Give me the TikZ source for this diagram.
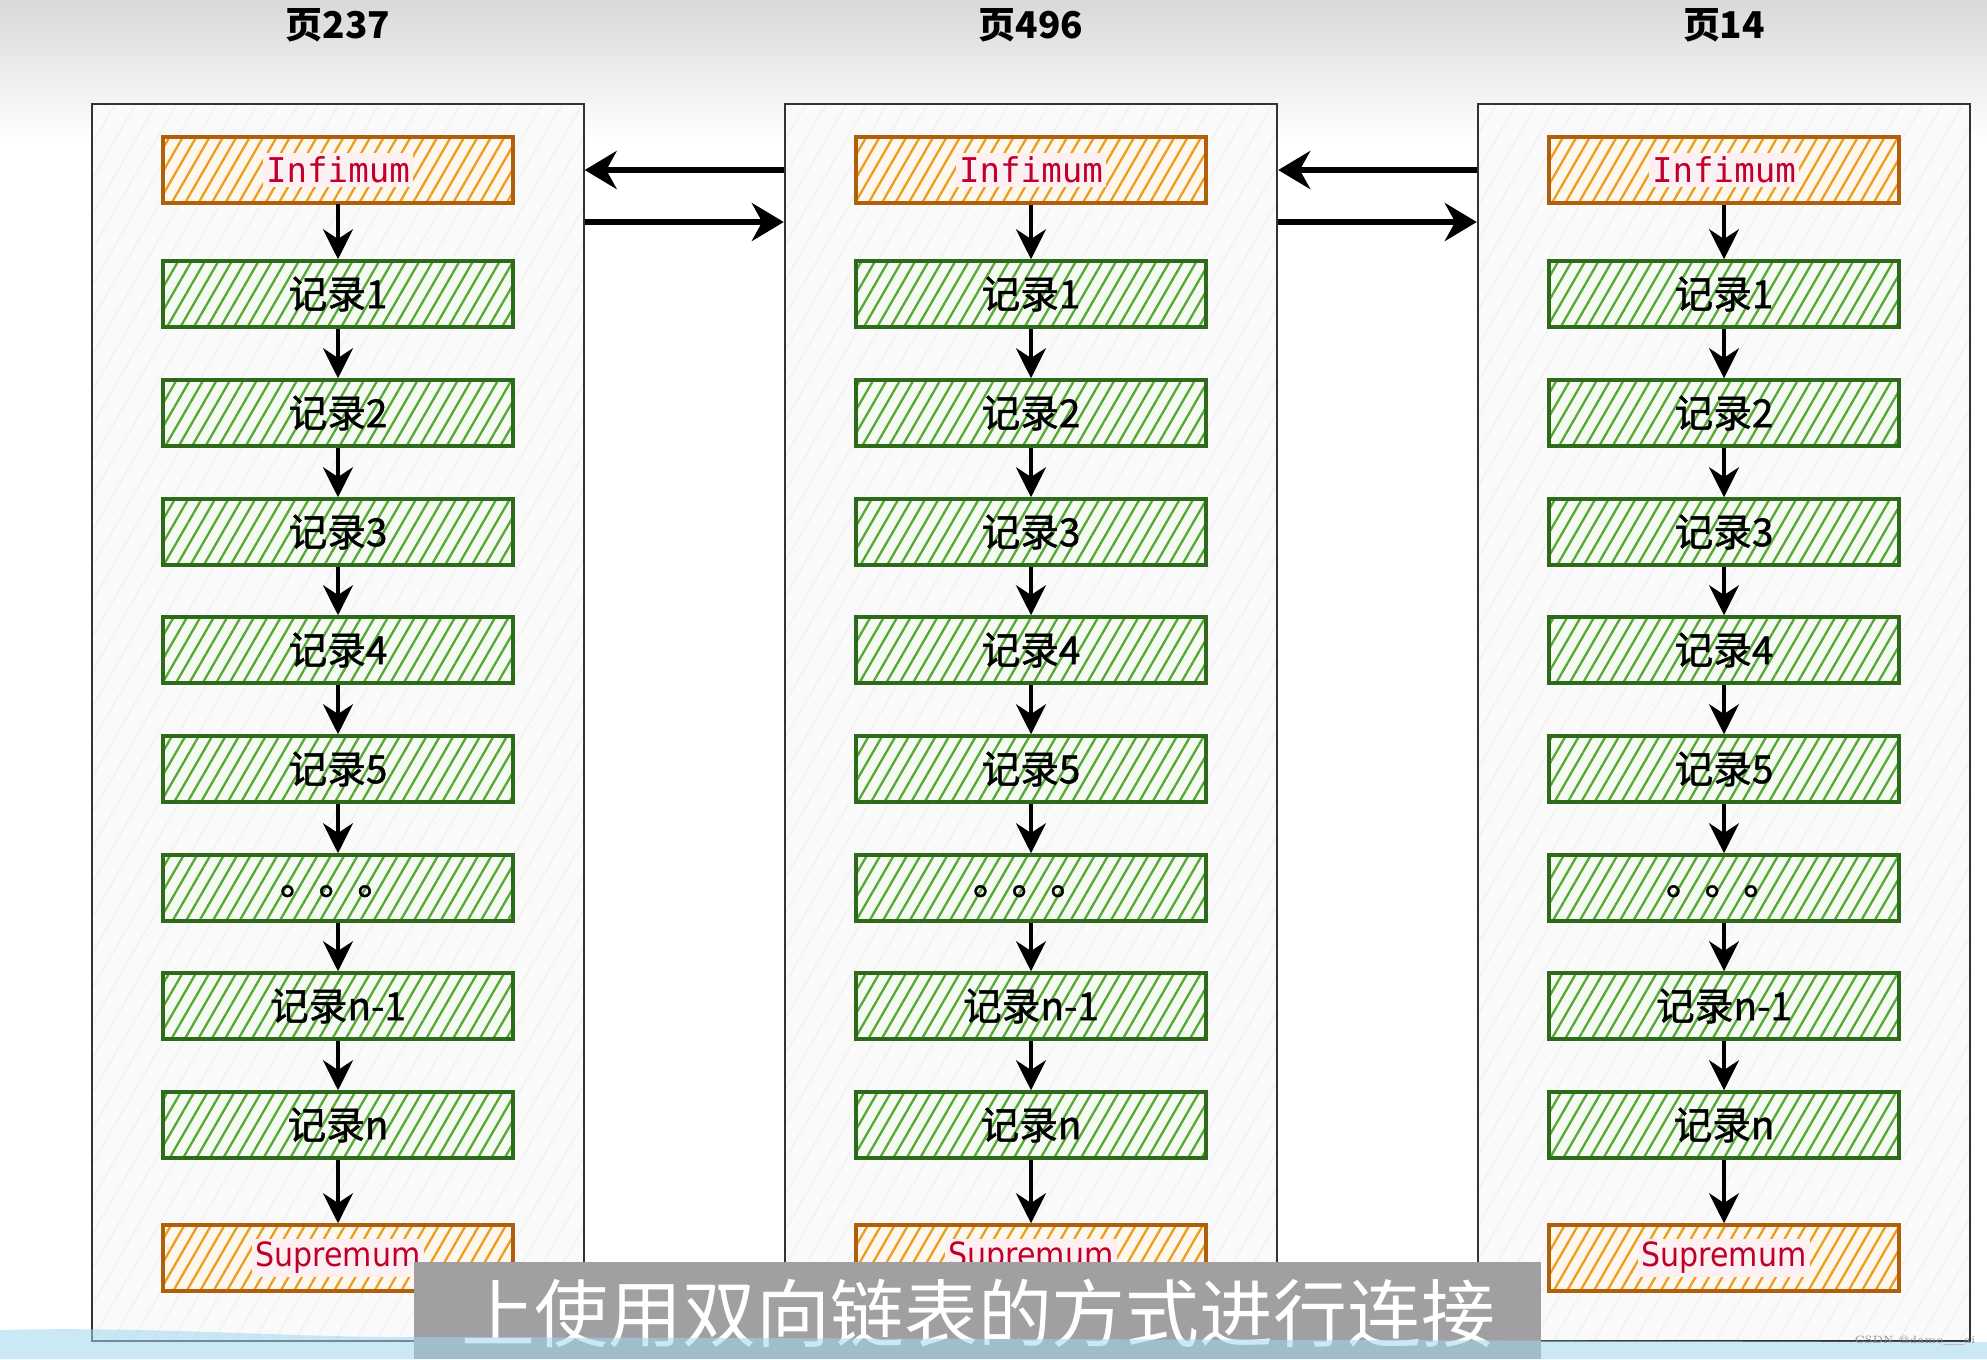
\documentclass[tikz,border=0pt]{standalone}
\usepackage{fontspec}
\usetikzlibrary{arrows.meta,patterns.meta}
\newfontfamily\cjk{Noto Sans CJK SC}
\newfontfamily\cjkrec[FakeBold=1.2]{Noto Sans CJK SC}
\newfontfamily\mono{DejaVu Sans Mono}
\newfontfamily\condsans{DejaVu Sans Condensed}

\definecolor{orgline}{HTML}{EC9D1E}
\definecolor{orgedge}{HTML}{B0600A}
\definecolor{grnline}{HTML}{55A835}
\definecolor{grnedge}{HTML}{2D6A1A}
\definecolor{txtred}{HTML}{C0002A}
\definecolor{hlpink}{HTML}{FDF0F2}
\definecolor{subgray}{HTML}{A19FA1}
\definecolor{blueband}{HTML}{9FD6EE}

\tikzset{
  pagebox/.style={draw=black!80, line width=0.6pt, inner sep=0pt,
    minimum width=4.92cm, minimum height=12.37cm,
    preaction={fill=black!2},
    pattern={Lines[angle=60,distance=5pt,line width=0.3pt]}, pattern color=black!6},
  cell/.style={line width=1pt, inner sep=0pt,
    minimum width=3.5cm, minimum height=0.66cm,
    pattern={Lines[angle=60,distance=3.3pt,line width=0.65pt]}},
  rec/.style={cell, draw=grnedge, preaction={fill=grnline!6},
    pattern color=grnline, font=\cjkrec\fontsize{11}{11}\selectfont},
  bound/.style={cell, draw=orgedge, preaction={fill=orgline!8},
    pattern color=orgline, text=txtred},
  link/.style={-{Stealth[length=3mm,width=3mm]}, line width=1pt},
  jump/.style={-{Stealth[length=3.2mm,width=3.8mm]}, line width=1.7pt},
  pgtitle/.style={font=\cjk\bfseries\fontsize{10.5}{10.5}\selectfont},
  subcap/.style={text=white, font=\cjk\fontsize{21}{21}\selectfont}
}
\setlength{\fboxsep}{1pt}

\begin{document}
\begin{tikzpicture}[x=0.01cm,y=-0.01cm]
  \useasboundingbox (0,0) rectangle (1987,1359);
  \shade[top color=black!15, bottom color=white] (0,0) rectangle (1987,140);

  \foreach \pg/\x in {237/338, 496/1031, 14/1724} {
    \node[pgtitle] (t\pg) at (\x,25) {页\pg};
    \node[pagebox] (p\pg) at (\x,722.5) {};
    \coordinate (lo\pg) at (\x,222);
    \node[bound, font=\mono\fontsize{9.7}{9.7}\selectfont] (p\pg-inf) at (\x,170)
      {\colorbox{hlpink}{Infimum}};
    \foreach \i/\txt/\y [remember=\i as \j (initially inf)] in
      {1/记录1/294, 2/记录2/413, 3/记录3/532, 4/记录4/650,
       5/记录5/769, 6/\raisebox{-4.5pt}{。。。}/888, 7/记录n-1/1006, 8/记录n/1125} {
      \node[rec] (p\pg-\i) at (\x,\y) {\txt};
      \draw[link] (p\pg-\j) -- (p\pg-\i);
    }
    \node[bound, font=\condsans\fontsize{9.5}{9.5}\selectfont] (p\pg-sup) at (\x,1258)
      {\colorbox{hlpink}{Supremum}};
    \draw[link] (p\pg-8) -- (p\pg-sup);
  }

  % links between the pages
  \draw[jump] (p496.west |- p496-inf) -- (p237.east |- p496-inf);
  \draw[jump] (p237.east |- lo237) -- (p496.west |- lo237);
  \draw[jump] (p14.west |- p14-inf) -- (p496.east |- p14-inf);
  \draw[jump] (p496.east |- lo496) -- (p14.west |- lo496);

  % subtitle overlay
  \fill[subgray] (414,1262) rectangle (1541,1359);
  \node[subcap] (cap) at (978,1313) {上使用双向链表的方式进行连接};
  \fill[blueband, opacity=0.55] (0,1330) .. controls (150,1326) and (300,1338) .. (420,1337)
    -- (1987,1342) -- (1987,1359) -- (0,1359) -- cycle;
  \node[text=black!45, font=\fontsize{3}{3}\selectfont] (mark) at (1915,1341) {CSDN @damo\_\_ai};
\end{tikzpicture}
\end{document}
